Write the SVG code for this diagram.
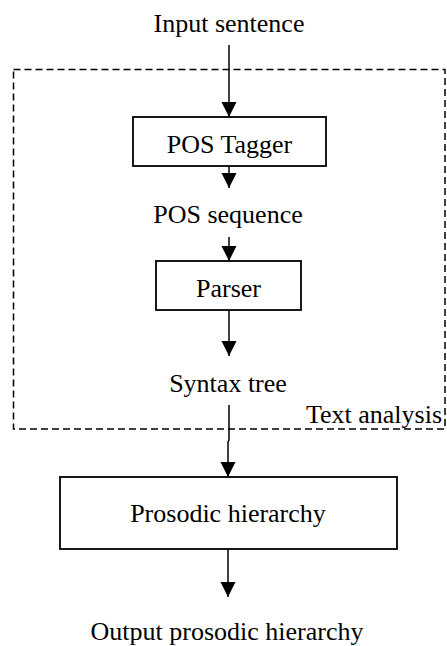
<svg xmlns="http://www.w3.org/2000/svg" width="447" height="646" viewBox="0 0 447 646">
<style>
text{font-family:'Liberation Serif','Times New Roman',Times,'DejaVu Serif',serif;font-size:26px;fill:#000;text-anchor:middle}
.box{fill:#fff;stroke:#000;stroke-width:1.8}
.edge{fill:none;stroke:#000;stroke-width:1.5}
</style>
<defs>
<marker id="arr" markerUnits="userSpaceOnUse" markerWidth="16" markerHeight="16" viewBox="0 0 16 16" refX="15" refY="8" orient="auto">
<path d="M0,0.5 L15,8 L0,15.5 Z" fill="#000"/>
</marker>
</defs>
<rect width="447" height="646" fill="#fff"/>
<g id="text-analysis">
<rect x="13.5" y="69.5" width="431.5" height="359.5" fill="none" stroke="#000" stroke-width="1.5" stroke-dasharray="7,4"/>
<text x="442" y="423" font-family="Liberation Serif, serif" style="text-anchor:end">Text analysis</text>
</g>
<g id="connectors">
<path class="edge" d="M229,45 V117" marker-end="url(#arr)"/>
<path class="edge" d="M229,166 V188" marker-end="url(#arr)"/>
<path class="edge" d="M229,237 V261" marker-end="url(#arr)"/>
<path class="edge" d="M229,310 V356" marker-end="url(#arr)"/>
<path class="edge" d="M229,405 V440 L228,442 V477" marker-end="url(#arr)"/>
<path class="edge" d="M228,549 V597" marker-end="url(#arr)"/>
</g>
<g id="input"><text x="229" y="32">Input sentence</text></g>
<g id="pos-tagger"><rect class="box" x="133" y="117" width="193" height="49"/><text x="229.5" y="153">POS Tagger</text></g>
<g id="pos-sequence"><text x="228" y="223">POS sequence</text></g>
<g id="parser"><rect class="box" x="156" y="261" width="145" height="49"/><text x="228.5" y="297">Parser</text></g>
<g id="syntax-tree"><text x="228" y="392">Syntax tree</text></g>
<g id="prosodic"><rect class="box" x="60" y="477" width="337" height="72"/><text x="228" y="522">Prosodic hierarchy</text></g>
<g id="output"><text x="227" y="640">Output prosodic hierarchy</text></g>
</svg>
